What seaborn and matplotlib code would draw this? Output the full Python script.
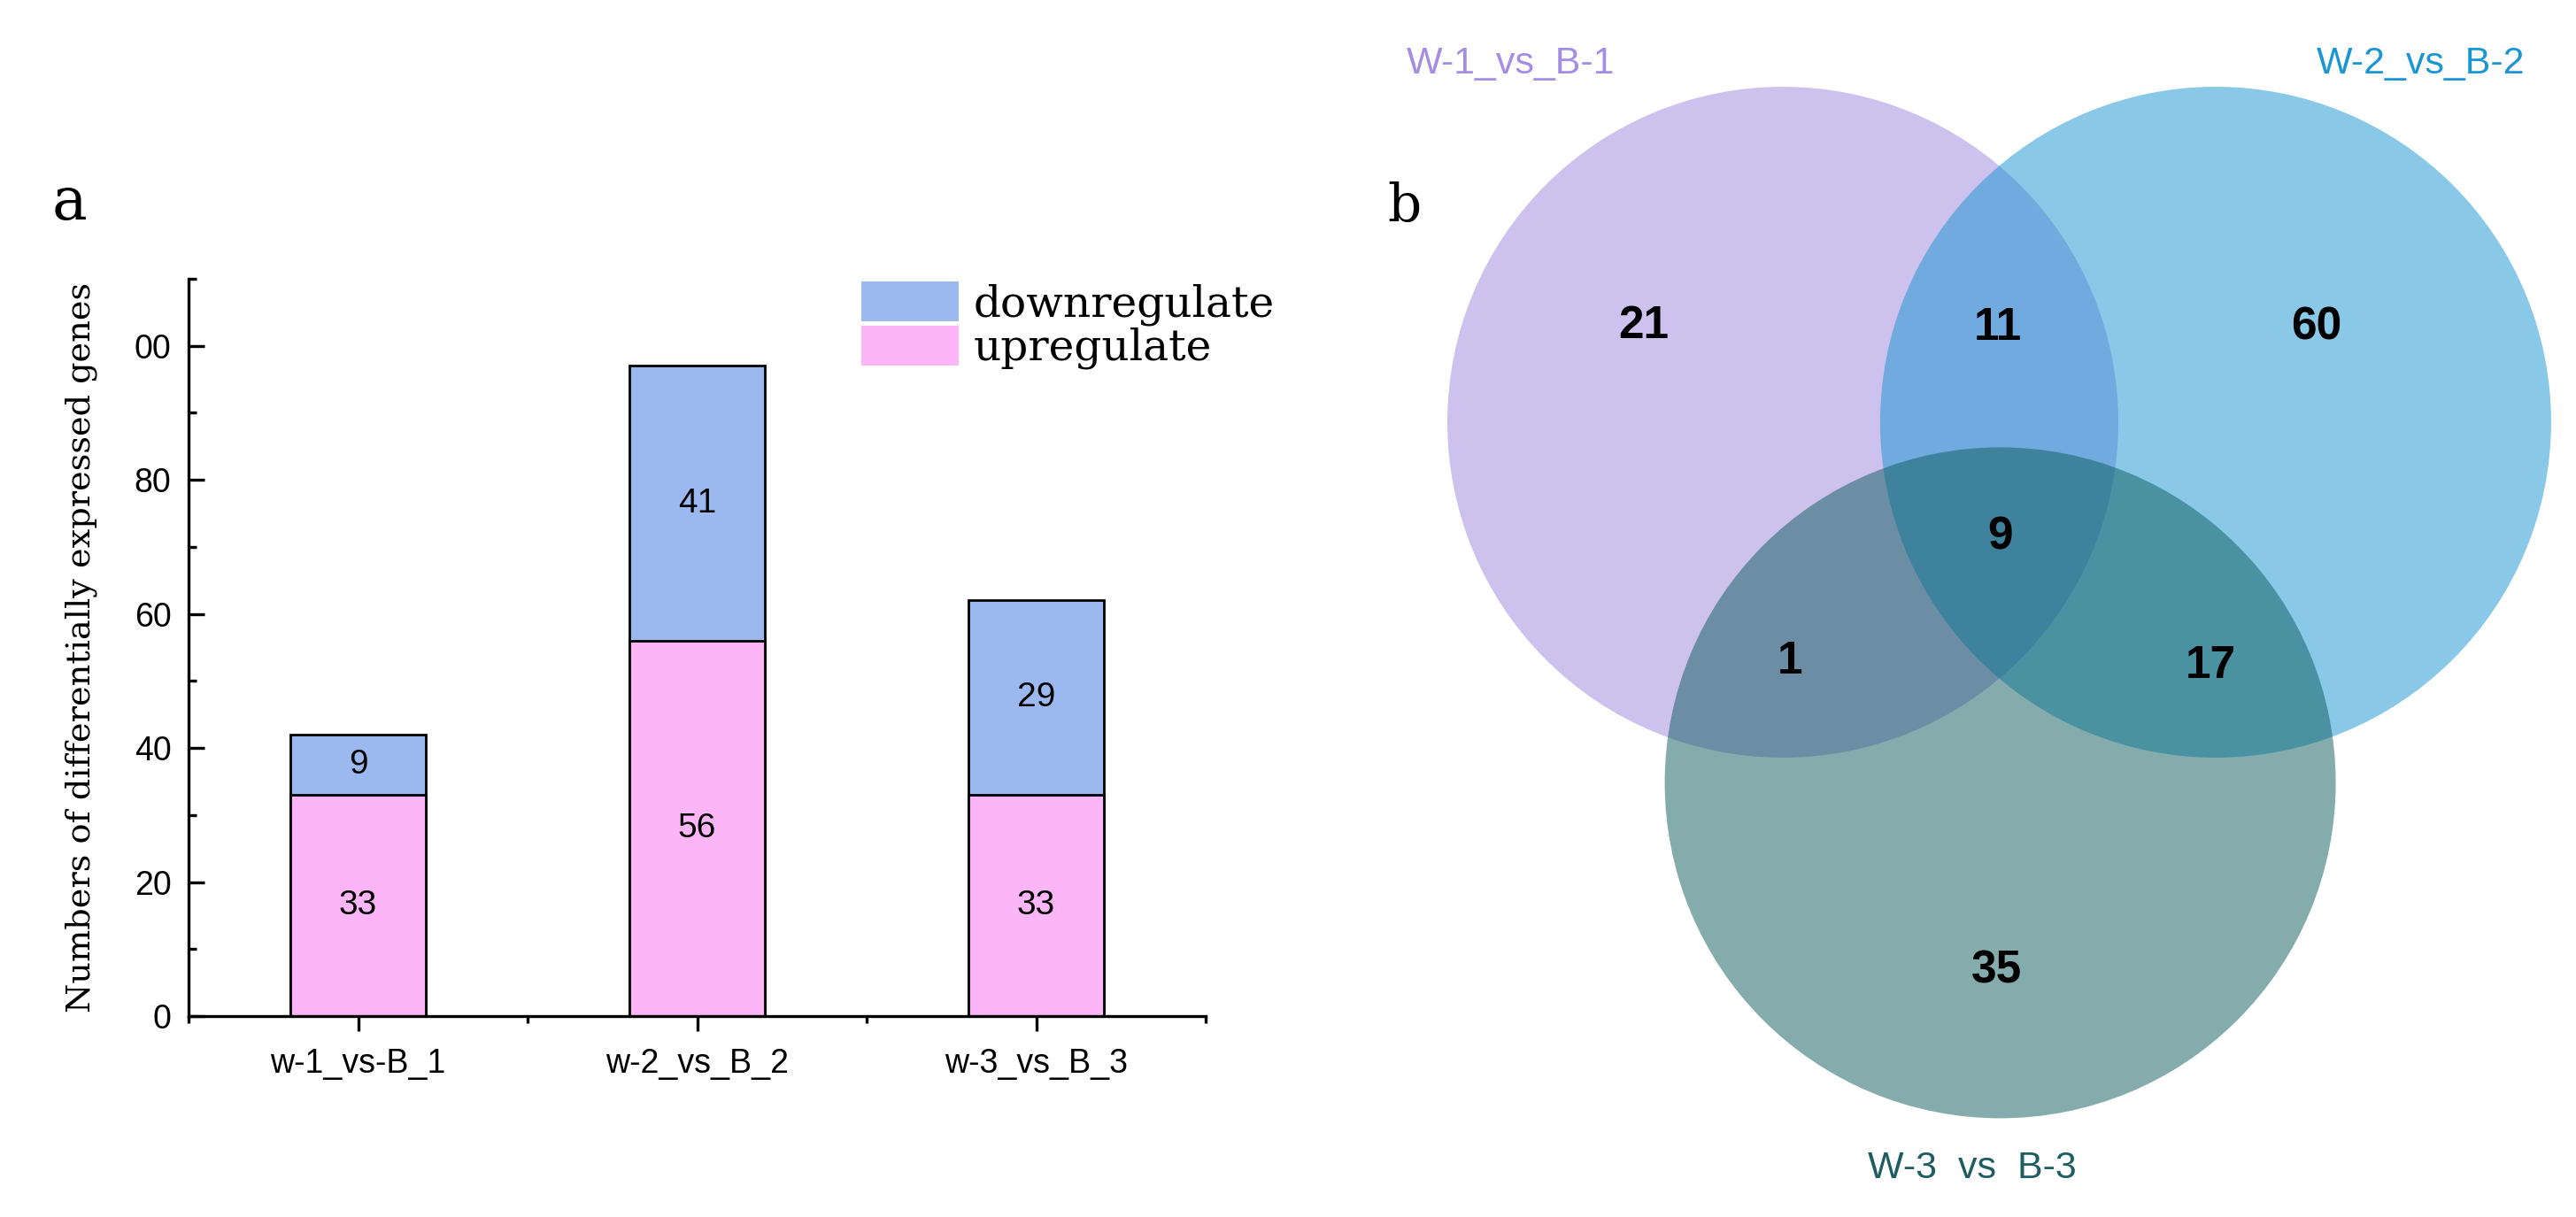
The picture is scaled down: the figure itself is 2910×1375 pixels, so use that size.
import matplotlib
matplotlib.use("Agg")
import matplotlib.pyplot as plt
from matplotlib.patches import Patch, Circle
from matplotlib.ticker import FixedLocator, MultipleLocator
import seaborn as sns
import pandas as pd

# data for panel a
comparisons = ["w-1_vs-B_1", "w-2_vs_B_2", "w-3_vs_B_3"]
upregulate = [33, 56, 33]
downregulate = [9, 41, 29]
y_tick_values = [0, 20, 40, 60, 80, 100]
y_tick_labels = ["0", "20", "40", "60", "80", "00"]

# data for panel b (venn)
set_names = ["W-1_vs_B-1", "W-2_vs_B-2", "W-3  vs  B-3"]
region_keys = ["100", "110", "010", "111", "101", "011", "001"]
region_counts = [21, 11, 60, 9, 1, 17, 35]

# colours
up_color = "#FCB6F7"
down_color = "#9BB9EE"
set_colors = ["#9D87DF", "#1593D1", "#0D5B5D"]
label_colors = ["#A48EE4", "#1A96D4", "#1E5E62"]

sns.set_style("white")
plt.rcParams["font.family"] = ["Liberation Sans", "DejaVu Sans"]
plt.rcParams["axes.linewidth"] = 2.4
plt.rcParams["text.color"] = "black"
plt.rcParams["axes.labelcolor"] = "black"
plt.rcParams["xtick.color"] = "black"
plt.rcParams["ytick.color"] = "black"

W, H = 2910, 1375
fig = plt.figure(figsize=(W / 100, H / 100), dpi=100)

# ---- panel a: stacked bars ----
ax = fig.add_axes([213 / W, 1 - 1148 / H, (1362 - 213) / W, (1148 - 315) / H])
df = pd.DataFrame({"comparison": comparisons, "up": upregulate, "down": downregulate})
df["total"] = df["up"] + df["down"]

sns.barplot(data=df, x="comparison", y="total", color=down_color, saturation=1,
            width=0.4, edgecolor="black", linewidth=2.0, ax=ax)
sns.barplot(data=df, x="comparison", y="up", color=up_color, saturation=1,
            width=0.4, edgecolor="black", linewidth=2.0, ax=ax)

for i, row in df.iterrows():
    ax.text(i, row["up"] / 2, str(row["up"]), ha="center", va="center", fontsize=28, color="black")
    ax.text(i, row["up"] + row["down"] / 2, str(row["down"]), ha="center", va="center",
            fontsize=28, color="black")

ax.set_xlim(-0.5, 2.5)
ax.set_ylim(0, 110)
ax.set_xlabel("")
ax.set_ylabel("Numbers of differentially expressed genes", family="DejaVu Serif", fontsize=27.5)
ax.yaxis.set_label_coords(-0.09, 0.5)
ax.set_yticks(y_tick_values)
ax.set_yticklabels(y_tick_labels)
ax.yaxis.set_minor_locator(MultipleLocator(10))
ax.xaxis.set_minor_locator(FixedLocator([-0.5, 0.5, 1.5, 2.5]))
ax.tick_params(axis="y", which="major", direction="in", length=13, width=2.4, pad=14, labelsize=27, left=True)
ax.tick_params(axis="y", which="minor", direction="in", length=6.5, width=2.4, left=True)
ax.tick_params(axis="x", which="major", direction="out", length=12, width=2.4, pad=14, labelsize=27, bottom=True)
ax.tick_params(axis="x", which="minor", direction="out", length=6, width=2.4, bottom=True)
for s in ["top", "right"]:
    ax.spines[s].set_visible(False)
for s in ["left", "bottom"]:
    ax.spines[s].set_color("black")

handles = [Patch(facecolor=down_color, edgecolor="none", label="downregulate"),
           Patch(facecolor=up_color, edgecolor="none", label="upregulate")]
fig.legend(handles=handles, loc="upper left", bbox_to_anchor=(973 / W, 1 - 318 / H),
           frameon=False, borderpad=0, borderaxespad=0, labelspacing=0.0,
           handlelength=2.26, handleheight=1.05, handletextpad=0.35,
           prop={"family": "DejaVu Serif", "size": 35})

fig.text(78 / W, 1 - 248 / H, "a", family="DejaVu Serif", fontsize=48, ha="center", va="baseline")
fig.text(1586 / W, 1 - 250 / H, "b", family="DejaVu Serif", fontsize=43, ha="center", va="baseline")

# ---- panel b: venn diagram ----
r = 379.0
venn = fig.add_axes([1450 / W, 0, 1460 / W, 1])
venn.set_xlim((1450 - 2014) / r, (2910 - 2014) / r)
venn.set_ylim((477 - 1375) / r, 477 / r)
venn.axis("off")

centers = [(0.0, 0.0), (1.29, 0.0), (0.648, -1.075)]
for (cx, cy), c in zip(centers, set_colors):
    venn.add_patch(Circle((cx, cy), 1.0, facecolor=c, edgecolor="none", alpha=0.5))

region_pos = {"100": (-0.414, 0.285), "110": (0.641, 0.282), "010": (1.591, 0.282),
              "111": (0.649, -0.343), "101": (0.021, -0.715), "011": (1.274, -0.728),
              "001": (0.636, -1.636)}
for key, n in zip(region_keys, region_counts):
    x, y = region_pos[key]
    venn.text(x, y, str(n), ha="center", va="center", fontsize=37, fontweight="bold", color="black")

name_pos = [(-0.81, 1.068), (1.90, 1.068), (0.565, -2.224)]
for (x, y), name, c in zip(name_pos, set_names, label_colors):
    venn.text(x, y, name, ha="center", va="center", fontsize=31, color=c)

fig.savefig("out.png", dpi=100)
